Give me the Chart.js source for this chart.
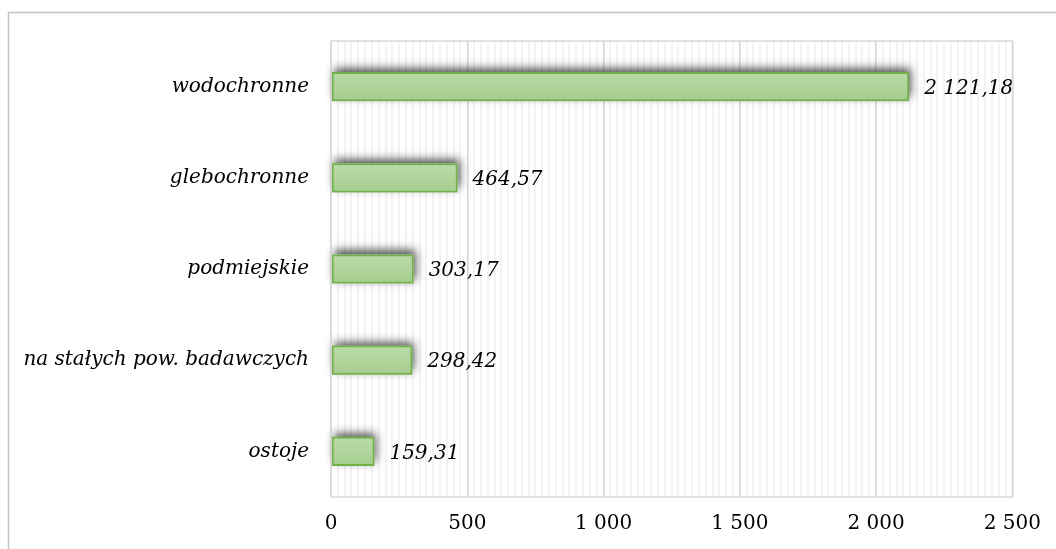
<!DOCTYPE html>
<html><head><meta charset="utf-8">
<script src="https://cdn.jsdelivr.net/npm/chart.js@4.4.1/dist/chart.umd.min.js"></script>
<style>html,body{margin:0;padding:0;background:#fff}#wrap{width:1056px;height:549px;position:relative}</style>
</head><body><div id="wrap"><canvas id="c" width="1056" height="549"></canvas></div>
<script>
const categories = ['wodochronne','glebochronne','podmiejskie','na stałych pow. badawczych','ostoje'];
const values = [2121.18, 464.57, 303.17, 298.42, 159.31];
const axisMax = 2500;
const majorStep = 500;
const minorStep = 25;

function fmt(v, dec){
  const s = v.toFixed(dec);
  let [i, d] = s.split('.');
  i = i.replace(/\B(?=(\d{3})+(?!\d))/g, ' ');
  return d ? i + ',' + d : i;
}
const FONT = "'DejaVu Serif', serif";

const frame = {
  id:'frame',
  beforeDraw(chart){
    const ctx = chart.ctx;
    ctx.save();
    ctx.fillStyle = '#fff';
    ctx.fillRect(0,0,chart.width,chart.height);
    ctx.strokeStyle = '#c4c4c4';
    ctx.lineWidth = 1.5;
    ctx.strokeRect(8.5, 12.5, chart.width + 20, chart.height + 20);
    ctx.restore();
  },
  afterDraw(chart){
    const a = chart.chartArea, ctx = chart.ctx;
    ctx.save();
    ctx.strokeStyle = '#d9d9d9';
    ctx.lineWidth = 1.5;
    ctx.strokeRect(a.left, a.top, a.right - a.left, a.bottom - a.top);
    ctx.restore();
  }
};
const shadow = {
  id:'shadow',
  beforeDatasetsDraw(chart){
    const ctx = chart.ctx, meta = chart.getDatasetMeta(0);
    ctx.save();
    ctx.shadowColor = 'rgba(0,0,0,0.7)';
    ctx.shadowBlur = 9;
    ctx.shadowOffsetX = 2;
    ctx.shadowOffsetY = -4;
    ctx.fillStyle = '#b0d49c';
    meta.data.forEach(bar => {
      const p = bar.getProps(['x','y','base','height'], true);
      ctx.fillRect(p.base, p.y - p.height/2, p.x - p.base, p.height);
    });
    ctx.restore();
  }
};
const labels = {
  id:'labels',
  afterDatasetsDraw(chart){
    const ctx = chart.ctx, meta = chart.getDatasetMeta(0);
    ctx.save();
    ctx.font = 'italic 20px ' + FONT;
    ctx.fillStyle = '#000';
    ctx.textBaseline = 'middle';
    meta.data.forEach((bar, i) => {
      ctx.fillText(fmt(values[i], 2), bar.x + 15, bar.y + 2);
    });
    ctx.restore();
  }
};

new Chart(document.getElementById('c'), {
  type:'bar',
  data:{ labels: categories, datasets:[{
    data: values,
    backgroundColor: (ctx) => {
      const c = ctx.chart;
      const ys = c.scales && c.scales.y;
      if (!c.chartArea || !ys) return '#b0d49c';
      const y = ys.getPixelForValue(ctx.dataIndex);
      if (!isFinite(y)) return '#b0d49c';
      const g = c.ctx.createLinearGradient(0, y - 15, 0, y + 15);
      g.addColorStop(0, '#b9dbaa');
      g.addColorStop(1, '#a5cd8e');
      return g;
    },
    borderColor: '#72b04a',
    borderWidth: 2,
    borderSkipped: false,
    barPercentage: 0.4,
    categoryPercentage: 0.8
  }]},
  options:{
    indexAxis:'y',
    responsive:false,
    animation:false,
    layout:{ padding:{ top:41, right:43, left:0, bottom:0 } },
    plugins:{ legend:{display:false}, tooltip:{enabled:false} },
    scales:{
      x:{
        min:0, max:axisMax,
        ticks:{ stepSize:minorStep, autoSkip:false, maxRotation:0,
          callback:(v)=> v % majorStep === 0 ? fmt(v,0) : '',
          font:{ family:FONT, size:20 }, color:'#000', padding:15 },
        grid:{ color:(c)=> (c.tick && c.tick.value % majorStep === 0) ? '#d4d4d4' : '#f3f3f3',
          lineWidth:(c)=> (c.tick && c.tick.value % majorStep === 0) ? 1.5 : 2,
          drawTicks:false },
        border:{ display:false },
        afterFit(s){ s.height = 52; }
      },
      y:{
        ticks:{ font:{ family:FONT, size:20, style:'italic' }, color:'#000', padding:22 },
        grid:{ display:false, drawTicks:false },
        border:{ display:false },
        afterFit(s){ s.width = 331; }
      }
    }
  },
  plugins:[frame, shadow, labels]
});
</script></body></html>
